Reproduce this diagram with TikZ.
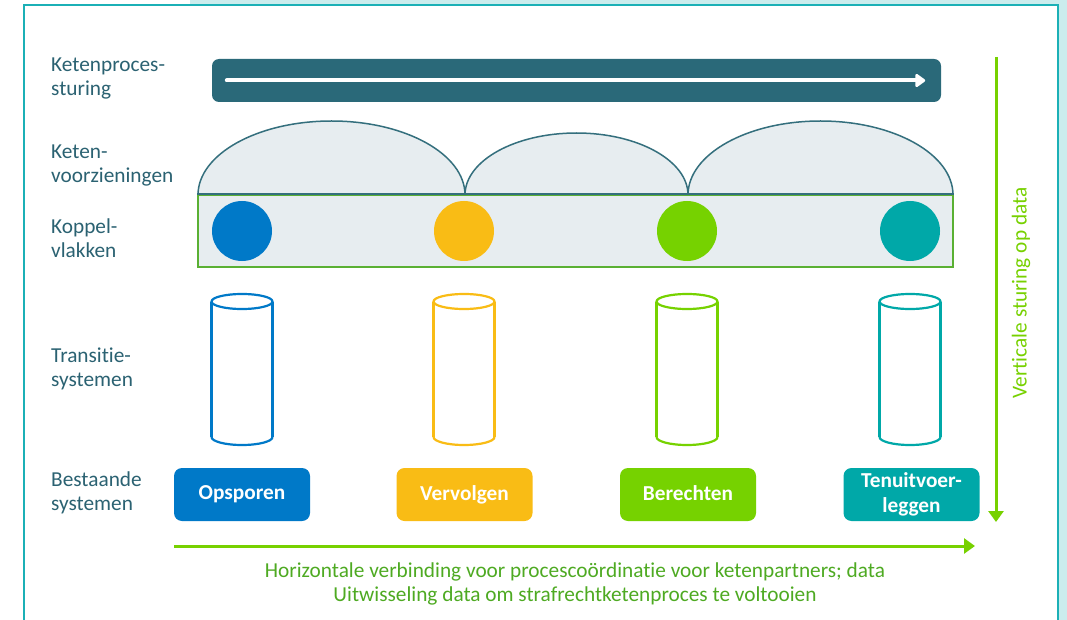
\documentclass[tikz,border=0pt]{standalone}
\usepackage{fontspec}
\setmainfont{Carlito}[Ligatures={NoCommon}]
\usetikzlibrary{arrows.meta}
\definecolor{bgC}{HTML}{CBECED}
\definecolor{frameC}{HTML}{1BB0B6}
\definecolor{labelC}{HTML}{2B6272}
\definecolor{barC}{HTML}{2A6979}
\definecolor{lightC}{HTML}{E7EDF0}
\definecolor{archC}{HTML}{346F7D}
\definecolor{rectG}{HTML}{5AB033}
\definecolor{blueC}{HTML}{0079C8}
\definecolor{yellowC}{HTML}{F9BC15}
\definecolor{limeC}{HTML}{76D200}
\definecolor{tealC}{HTML}{00A8A8}
\definecolor{arrowG}{HTML}{77D100}
\definecolor{textG}{HTML}{4EAA22}
\begin{document}
\begin{tikzpicture}[x=1pt,y=-1pt,
  lbl/.style={anchor=base west, align=left, inner sep=0pt, text=labelC, font=\fontsize{21.3}{24}\selectfont},
  sysbox/.style={rounded corners=8pt, minimum width=136pt, minimum height=53pt, text=white, font=\bfseries\fontsize{21.3}{25}\selectfont, align=center, inner sep=0pt},
  dot/.style={circle, minimum size=60pt, inner sep=0pt},
  cylline/.style={line width=2.2pt},
  greenarrow/.style={draw=arrowG, line width=3pt, -{Triangle[length=11pt,width=15pt]}}
]
\useasboundingbox (0,0) rectangle (1067,620);
% background and frame
\fill[bgC] (190,0) rectangle (1067,620);
\draw[frameC, line width=1.5pt, fill=white] (24,5) rectangle (1058,640);

% left labels (anchored on the baseline of the last line)
\node[lbl] (l1) at (51,96) {Ketenproces-\\sturing};
\node[lbl] (l2) at (51,183) {Keten-\\voorzieningen};
\node[lbl] (l3) at (51,257) {Koppel-\\vlakken};
\node[lbl] (l4) at (51,386) {Transitie-\\systemen};
\node[lbl] (l5) at (51,510) {Bestaande\\systemen};

% process bar
\node[fill=barC, rounded corners=7pt, minimum width=729pt, minimum height=43pt, inner sep=0pt] (bar) at (576.5,80.5) {};
\draw[white, line width=4pt, line cap=round, -{Triangle[length=11pt,width=15pt,round]}] ([xshift=15pt]bar.west) -- ([xshift=-16pt]bar.east);

% arches
\fill[lightC] (198,195) arc[start angle=180, end angle=0, x radius=133.5pt, y radius=74pt] -- cycle;
\fill[lightC] (465,195) arc[start angle=180, end angle=0, x radius=111.5pt, y radius=62pt] -- cycle;
\fill[lightC] (688,195) arc[start angle=180, end angle=0, x radius=132.5pt, y radius=74pt] -- cycle;
\draw[archC, line width=1.5pt] (198,195) arc[start angle=180, end angle=0, x radius=133.5pt, y radius=74pt];
\draw[archC, line width=1.5pt] (465,195) arc[start angle=180, end angle=0, x radius=111.5pt, y radius=62pt];
\draw[archC, line width=1.5pt] (688,195) arc[start angle=180, end angle=0, x radius=132.5pt, y radius=74pt];

% koppelvlakken
\node[draw=rectG, fill=lightC, line width=1.5pt, minimum width=755pt, minimum height=72pt, inner sep=0pt] (koppel) at (575.5,231) {};
\draw[archC, line width=1.5pt] (koppel.north west) -- (koppel.north east);
\node[dot, fill=blueC] (c1) at (242,231) {};
\node[dot, fill=yellowC] (c2) at (464,231) {};
\node[dot, fill=limeC] (c3) at (687,231) {};
\node[dot, fill=tealC] (c4) at (910,231) {};

% cylinders
\foreach \cx/\cc in {242/blueC, 464/yellowC, 687/limeC, 910/tealC}{
  \draw[cylline, \cc] (\cx-30.5,437) -- (\cx-30.5,301.5);
  \draw[cylline, \cc] (\cx+30.5,437) -- (\cx+30.5,301.5);
  \draw[cylline, \cc] (\cx,301.5) ellipse[x radius=30.5pt, y radius=7.5pt];
  \draw[cylline, \cc] (\cx-30.5,437) arc[start angle=180, end angle=360, x radius=30.5pt, y radius=8pt];
}

% existing systems
\node[sysbox, fill=blueC] (b1) at (242,494.5) {Opsporen};
\node[sysbox, fill=yellowC] (b2) at (464.5,494.5) {Vervolgen};
\node[sysbox, fill=limeC] (b3) at (688,494.5) {Berechten\vphantom{g}};
\node[sysbox, fill=tealC] (b4) at (911.5,494.5) {Tenuitvoer-\\leggen};

% vertical arrow
\coordinate (vtop) at (996,57);
\coordinate (vbot) at (996,522);
\draw[greenarrow] (vtop) -- (vbot);
\node[rotate=90, text=arrowG, font=\fontsize{21.3}{24}\selectfont, inner sep=0pt] (vlab) at (1021,293) {Verticale sturing op data};

% horizontal arrow
\coordinate (hl) at (174,546);
\coordinate (hr) at (975,546);
\draw[greenarrow] (hl) -- (hr);
\node[align=center, text=textG, font=\fontsize{21.3}{23.5}\selectfont, inner sep=0pt] (hlab) at (575,584) {Horizontale verbinding voor procescoördinatie voor ketenpartners; data\\Uitwisseling data om strafrechtketenproces te voltooien};
\end{tikzpicture}
\end{document}
